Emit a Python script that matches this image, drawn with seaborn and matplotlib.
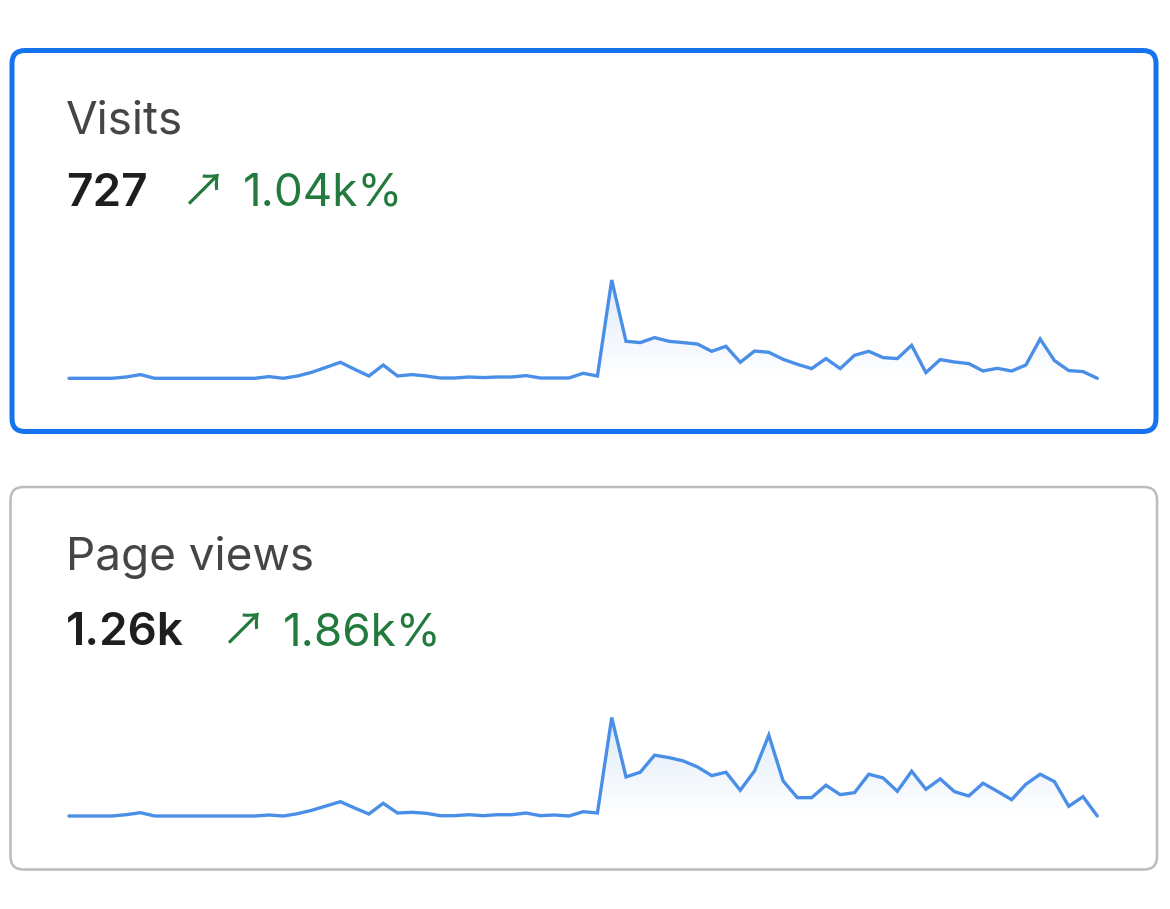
import numpy as np
import matplotlib
matplotlib.use("Agg")
import matplotlib.pyplot as plt
import seaborn as sns
from matplotlib.patches import FancyBboxPatch


# metric cards
titles = ["Visits", "Page views"]
totals = ["727", "1.26k"]
changes = ["1.04k%", "1.86k%"]

# daily series (relative heights)
visits = [0, 0, 0, 0, 1.3, 3.7, 0, 0, 0, 0, 0, 0, 0, 0, 1.7, 0, 2.3, 6, 11, 16,
          9, 2.3, 13.3, 2.3, 3.7, 2.3, 0.3, 0.3, 1.3, 0.7, 1.3, 1.3, 2.7, 0.3, 0.3, 0.3, 5, 2.3,
          98.3, 37, 35.7, 40.7, 37, 35.7, 34.3, 27, 32, 16, 27.3, 26, 19, 14, 9.7, 19.7,
          9.7, 23, 27, 20.7, 19.7, 33, 5.7, 18.7, 16.3, 14.7, 7.3, 10, 7.3, 13.3, 39.3,
          17.7, 7.7, 6.7, 0]
page_views = [0, 0, 0, 0, 1.3, 3.3, 0, 0, 0, 0, 0, 0, 0, 0, 1, 0, 2.3, 5.7, 10, 14.3,
              8, 2, 12.7, 3, 3.7, 2.7, 0.3, 0.3, 1.3, 0.3, 1.3, 1.3, 3, 0.3, 1, 0, 4.3, 3,
              98.3, 39, 43.7, 60.7, 58.3, 55, 49, 40.3, 43.7, 25.7, 45, 80.7, 35, 18.3, 18.3,
              30.7, 21.3, 23.3, 41.7, 38, 24.7, 44.7, 26.7, 37, 24.3, 20, 32.7, 24.7, 16.3,
              31.7, 41.7, 34.3, 9.7, 19.3, 0]
series = [visits, page_views]

W, H = 1170, 909
LINE = "#4a8fe7"
GREEN = "#227a3d"

sns.set_theme(style="white")
plt.rcParams["font.family"] = ["Inter", "DejaVu Sans"]

fig = plt.figure(figsize=(W / 100, H / 100), dpi=100)
fig.patch.set_facecolor("white")

# background axes in pixel units for the cards and labels
bg = fig.add_axes([0, 0, 1, 1])
bg.set_xlim(0, W)
bg.set_ylim(H, 0)
bg.axis("off")

cards = [
    dict(x0=12, y0=50.5, x1=1156, y1=431.5, color="#1673f0", lw=3.6),
    dict(x0=10.5, y0=487, x1=1157, y1=869.5, color="#bcbcbc", lw=1.8),
]
text_rows = [(133, 206, 180, 243), (570, 645, 220, 283)]
spark_box = [(69, 378.3, 1097.3, 280), (69, 816, 1097.3, 717.5)]

for i, c in enumerate(cards):
    bg.add_patch(FancyBboxPatch((c["x0"], c["y0"]), c["x1"] - c["x0"], c["y1"] - c["y0"],
                                boxstyle="round,pad=0,rounding_size=13",
                                fc="white", ec=c["color"], lw=c["lw"]))
    ty, ny, ax_x, px = text_rows[i]
    bg.text(66, ty, titles[i], fontsize=33, color="#454545", va="baseline", ha="left")
    bg.text(66, ny, totals[i], fontsize=33, color="#1e1e1e", fontweight="semibold",
            va="baseline", ha="left")
    bg.text(ax_x, ny, "\u2197", fontsize=33, color=GREEN, va="baseline", ha="left",
            family=["Noto Sans CJK JP", "DejaVu Sans"])
    bg.text(px, ny, changes[i], fontsize=33, color=GREEN, va="baseline", ha="left")

for vals, (x0, yb, x1, yt) in zip(series, spark_box):
    ymax = max(vals)
    ax = fig.add_axes([x0 / W, 1 - yb / H, (x1 - x0) / W, (yb - yt) / H])
    ax.patch.set_alpha(0)
    idx = np.arange(len(vals))

    # gradient fill under the line
    poly = ax.fill_between(idx, vals, 0, color="none", lw=0)
    grad = np.zeros((256, 1, 4))
    grad[:, 0, :3] = matplotlib.colors.to_rgb("#5b9be6")
    grad[:, 0, 3] = np.linspace(0.0, 0.2, 256)
    img = ax.imshow(grad, extent=[0, len(vals) - 1, 0, ymax], origin="lower",
                    aspect="auto", zorder=1)
    img.set_clip_path(poly.get_paths()[0], transform=ax.transData)

    sns.lineplot(x=idx, y=vals, ax=ax, color=LINE, linewidth=2.4, zorder=3)
    for ln in ax.lines:
        ln.set_clip_on(False)
        ln.set_solid_joinstyle("miter")
    ax.set_xlim(0, len(vals) - 1)
    ax.set_ylim(0, ymax)
    ax.axis("off")

fig.savefig("out.png", dpi=100, facecolor="white")
